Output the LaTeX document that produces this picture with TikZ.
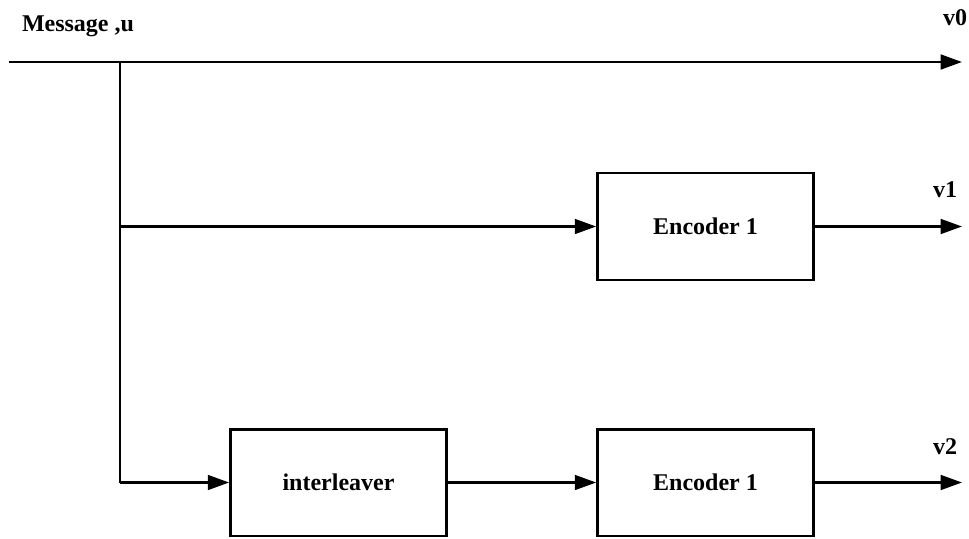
\documentclass[tikz,border=0pt]{standalone}
\usepackage{fontspec}
\setmainfont{Liberation Serif}
\usetikzlibrary{arrows.meta}
\begin{document}
\begin{tikzpicture}[x=0.75pt,y=-0.75pt,
  wire/.style={line width=2pt},
  flow/.style={wire,-{Triangle[length=16pt,width=11pt]}},
  block/.style={draw,line width=2pt,minimum width=162pt,minimum height=80pt,
    inner sep=0pt,font=\bfseries\fontsize{18}{22}\selectfont},
  tag/.style={inner sep=0pt,font=\bfseries\fontsize{18}{22}\selectfont}]
\useasboundingbox (0,0) rectangle (969,538);
% blocks
\node[block] (enc1) at (705.5,226.5) {Encoder 1};
\node[block] (intl) at (338.5,482.5) {interleaver};
\node[block] (enc2) at (705.5,482.5) {Encoder 1};
% terminals and junctions
\coordinate (in)    at (9,62);
\coordinate (split) at (120,62);
\coordinate (tap1)  at (120,226.5);
\coordinate (tap2)  at (120,482.5);
\coordinate (out0)  at (962,62);
\coordinate (out1)  at (962,226.5);
\coordinate (out2)  at (962,482.5);
% labels
\node[tag] (msg) at (78,26) {Message ,u};
\node[tag] (v0)  at (955,18) {v0};
\node[tag] (v1)  at (945,190) {v1};
\node[tag] (v2)  at (945,447) {v2};
% connections
\draw[flow] (in) -- (out0);
\draw[wire] (split) -- (tap2);
\draw[flow] (tap1) -- (enc1.west);
\draw[flow] (enc1.east) -- (out1);
\draw[flow] (tap2) -- (intl.west);
\draw[flow] (intl.east) -- (enc2.west);
\draw[flow] (enc2.east) -- (out2);
\end{tikzpicture}
\end{document}
